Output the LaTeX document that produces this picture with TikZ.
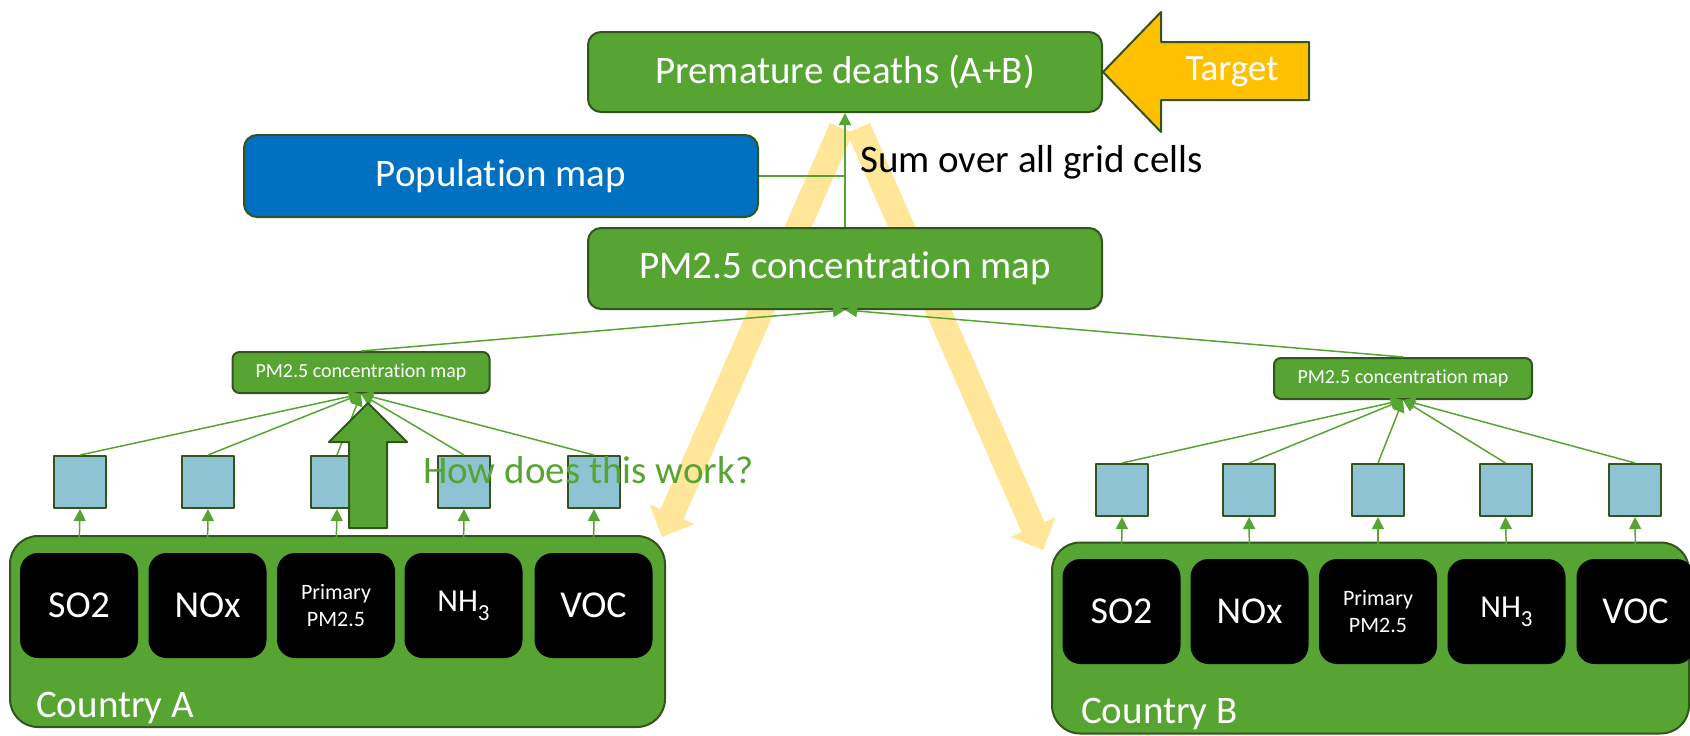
\documentclass[tikz,border=0pt]{standalone}
\usepackage{fontspec}
\setmainfont{Carlito}
\usetikzlibrary{arrows.meta}
\definecolor{boxgreen}{RGB}{86,165,50}
\definecolor{edgegreen}{RGB}{52,84,30}
\definecolor{popblue}{RGB}{0,112,192}
\definecolor{cellblue}{RGB}{141,195,210}
\definecolor{targetgold}{RGB}{255,192,0}
\definecolor{paleyellow}{RGB}{255,230,153}
\newcommand\subthree{\raisebox{-9pt}{\fontsize{23}{27}\selectfont 3}}
\newcommand\tion{t\kern0pt ion}% keeps t and i apart
\begin{document}
\begin{tikzpicture}[x=1pt, y=-1pt, line join=round, >={Triangle[length=12pt,width=12pt]},
	mapbox/.style={draw=edgegreen, line width=2pt, fill=boxgreen, text=white, rounded corners=13pt, inner sep=0pt, minimum width=514pt, minimum height=81pt, font=\fontsize{39}{47}\selectfont},
	smallmap/.style={mapbox, rounded corners=7pt, minimum width=257pt, minimum height=41pt, font=\fontsize{20}{24}\selectfont},
	country/.style={draw=edgegreen, line width=2pt, fill=boxgreen, rounded corners=28pt, minimum height=191pt},
	species/.style={fill=black, text=white, rounded corners=18pt, minimum width=118pt, minimum height=105pt, inner sep=0pt, font=\fontsize{38}{46}\selectfont},
	cellbox/.style={draw=edgegreen, line width=2pt, fill=cellblue, minimum size=52pt, inner sep=0pt},
	feed/.style={boxgreen, line width=1.5pt},
	whitetext/.style={text=white, inner sep=0pt, font=\fontsize{39}{47}\selectfont}]
			\useasboundingbox (0,0) rectangle (1690,736);
			\clip (0,0) rectangle (1690,736);
			% pale arrows behind everything
			\fill[paleyellow] (830.05,122.98) -- (852.95,133.02) -- (683.5,519.13) -- (694.48,523.95) -- (662,537) -- (649.62,504.27) -- (660.6,509.09) -- cycle;
			\fill[paleyellow] (847.05,133.01) -- (869.95,122.99) -- (1044.43,522.09) -- (1055.43,517.29) -- (1043,550) -- (1010.53,536.91) -- (1021.53,532.11) -- cycle;
			% countries
			\node[country, minimum width=655pt] (countryA) at (337.5,631.5) {};
			\node[country, minimum width=637pt] (countryB) at (1370.5,638) {};
			\node[whitetext, anchor=base west] (nameA) at (36,717) {Country A};
			\node[whitetext, anchor=base west] (nameB) at (1081,723) {Country B};
			\node[species] (so2A) at (79,605.5) {SO2};
			\node[species] (noxA) at (207.5,605.5) {NOx};
			\node[species, font=\fontsize{22}{27}\selectfont, align=center] (ppmA) at (336,605.5) {Primary\\PM2.5};
			\node[species, font=\fontsize{32}{38}\selectfont] (nh3A) at (463.5,605.5) {NH\subthree};
			\node[species] (vocA) at (593.5,605.5) {VOC};
			\node[species] (so2B) at (1121.5,611.5) {SO2};
			\node[species] (noxB) at (1249.5,611.5) {NOx};
			\node[species, font=\fontsize{22}{27}\selectfont, align=center] (ppmB) at (1378,611.5) {Primary\\PM2.5};
			\node[species, font=\fontsize{32}{38}\selectfont] (nh3B) at (1506.5,611.5) {NH\subthree};
			\node[species] (vocB) at (1635.5,611.5) {VOC};
			% grid cells
			\node[cellbox] (cellA1) at (80,482) {};
			\node[cellbox] (cellA2) at (208,482) {};
			\node[cellbox] (cellA3) at (337,482) {};
			\node[cellbox] (cellA4) at (464,482) {};
			\node[cellbox] (cellA5) at (594,482) {};
			\node[cellbox] (cellB1) at (1122,490) {};
			\node[cellbox] (cellB2) at (1249,490) {};
			\node[cellbox] (cellB3) at (1378,490) {};
			\node[cellbox] (cellB4) at (1505.5,490) {};
			\node[cellbox] (cellB5) at (1635,490) {};
			% maps
			\node[smallmap] (smallA) at (361,372.5) {PM2.5 concentra\tion{} map};
			\node[smallmap, minimum width=258pt] (smallB) at (1403,378.5) {PM2.5 concentra\tion{} map};
			\node[mapbox, minimum height=80pt] (deaths) at (845,72) {Premature deaths (A+B)};
			\node[mapbox, fill=popblue, minimum height=82pt] (popmap) at (501,176) {Popula\tion{} map};
			\node[mapbox] (pmbig) at (845,268.5) {PM2.5 concentra\tion{} map};
			\node[anchor=base west, inner sep=0pt, font=\fontsize{39}{47}\selectfont] (sumnote) at (860,172) {Sum over all grid cells};
			% connectors
			\draw[feed,->] (pmbig.north) -- (deaths.south);
			\draw[feed] (popmap.east) -- (popmap.east -| pmbig.north);
			\draw[feed,->] (smallA.north) -- (pmbig.south);
			\draw[feed,->] (smallB.north) -- (pmbig.south);
			\draw[feed,->] (cellA1.north) -- (smallA.south);
			\draw[feed,->] (cellA2.north) -- (smallA.south);
			\draw[feed,->] (cellA3.north) -- (smallA.south);
			\draw[feed,->] (cellA4.north) -- (smallA.south);
			\draw[feed,->] (cellA5.north) -- (smallA.south);
			\draw[feed,->] (cellB1.north) -- (smallB.south);
			\draw[feed,->] (cellB2.north) -- (smallB.south);
			\draw[feed,->] (cellB3.north) -- (smallB.south);
			\draw[feed,->] (cellB4.north) -- (smallB.south);
			\draw[feed,->] (cellB5.north) -- (smallB.south);
			\draw[feed,->] (so2A.north) -- (cellA1.south);
			\draw[feed,->] (noxA.north) -- (cellA2.south);
			\draw[feed,->] (ppmA.north) -- (cellA3.south);
			\draw[feed,->] (nh3A.north) -- (cellA4.south);
			\draw[feed,->] (vocA.north) -- (cellA5.south);
			\draw[feed,->] (so2B.north) -- (cellB1.south);
			\draw[feed,->] (noxB.north) -- (cellB2.south);
			\draw[feed,->] (ppmB.north) -- (cellB3.south);
			\draw[feed,->] (nh3B.north) -- (cellB4.south);
			\draw[feed,->] (vocB.north) -- (cellB5.south);
			% target and question
			\draw[edgegreen, line width=2pt, fill=targetgold] (deaths.east) -- ++(58,-60) -- ++(0,30) -- ++(148,0) -- ++(0,58) -- ++(-148,0) -- ++(0,32) -- cycle;
			\node[whitetext, font=\fontsize{37}{44}\selectfont] (target) at (1232,72) {Target};
			\draw[edgegreen, line width=2pt, fill=boxgreen] (368,403) -- (407,442) -- (387,442) -- (387,528) -- (349,528) -- (349,442) -- (329,442) -- cycle;
			\node[anchor=base west, inner sep=0pt, text=boxgreen, font=\fontsize{39}{47}\selectfont] (question) at (423,483) {How does this work?};
		\end{tikzpicture}
\end{document}
